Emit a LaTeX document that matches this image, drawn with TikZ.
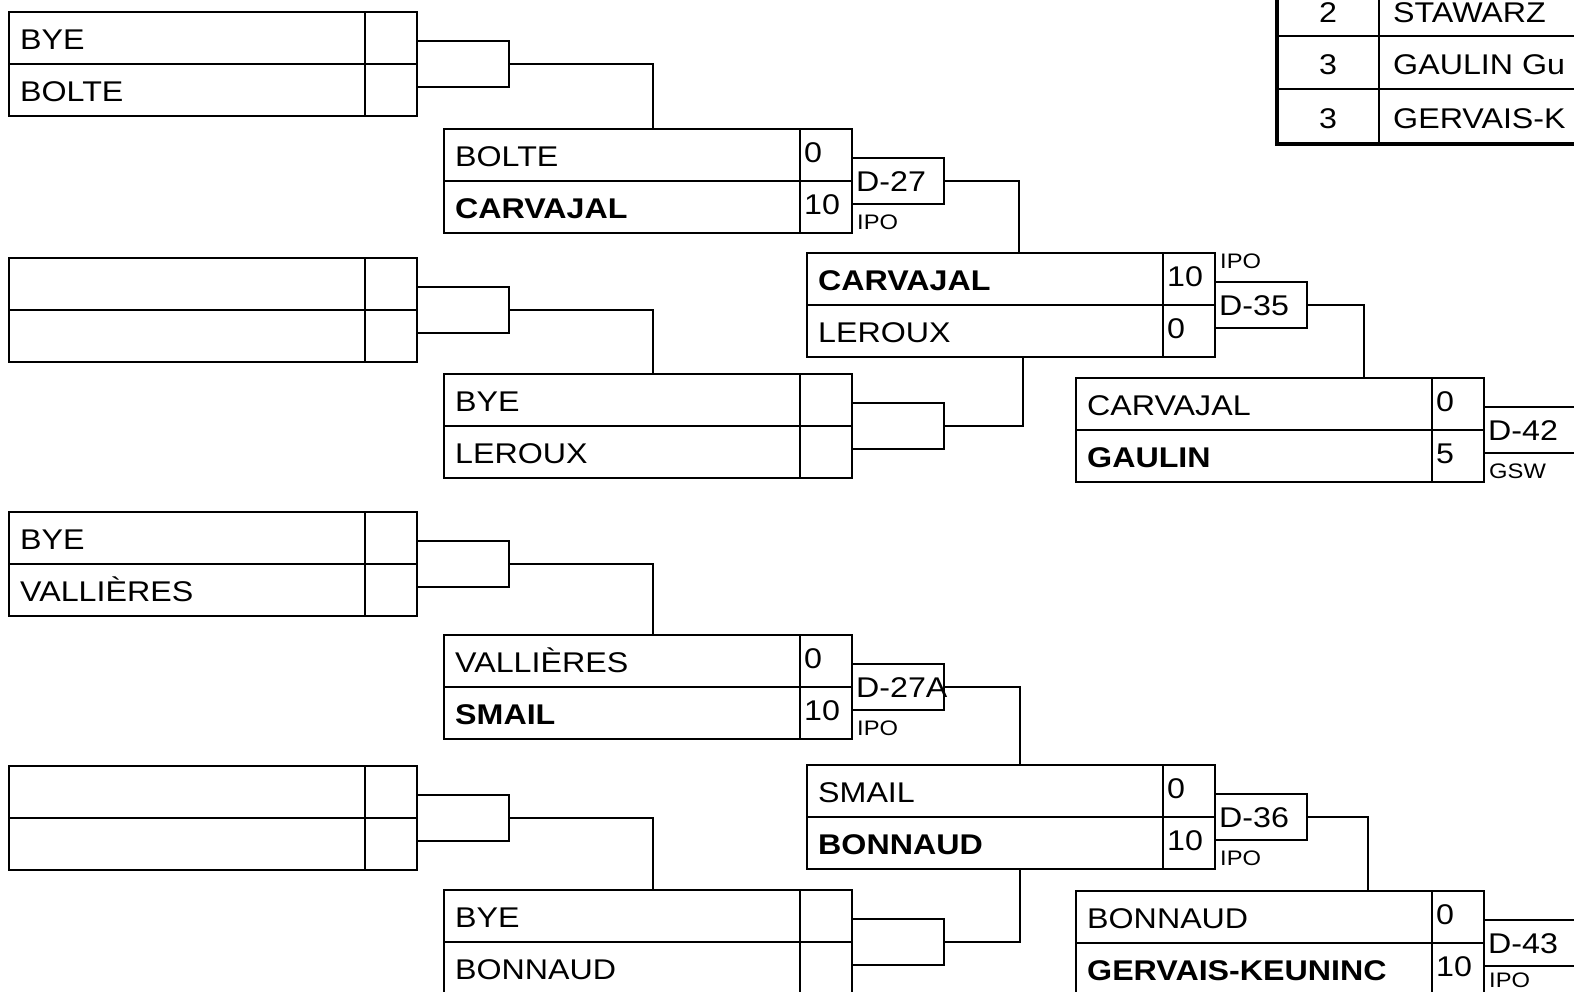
\documentclass[tikz,border=0pt]{standalone}
\usepackage{fontspec}
\setmainfont{Liberation Sans}[FakeStretch=1.13]
\tikzset{
  pair/.style={draw, line width=1.8pt, minimum width=408pt, minimum height=104pt, anchor=north west, inner sep=0pt, outer sep=0pt},
  mbox/.style={draw, line width=1.8pt, minimum width=92pt, minimum height=46pt, anchor=west, inner sep=0pt, outer sep=0pt},
  mboxw/.style={mbox, minimum width=100pt},
  nm/.style={anchor=base west, inner sep=0pt, font=\fontsize{28.5}{30}\selectfont},
  sm/.style={anchor=base west, inner sep=0pt, font=\fontsize{21}{22}\selectfont},
  tnum/.style={anchor=base, inner sep=0pt, font=\fontsize{28.5}{30}\selectfont},
  conn/.style={line width=1.8pt},
}
\newcommand\Pair[7]{%
  \node[pair] (#1) at (#2,#3) {};
  \draw[line width=2.3pt] (#1.west) -- (#1.east);
  \draw[line width=1.8pt] ([xshift=-52pt]#1.north east) -- ([xshift=-52pt]#1.south east);
  \node[nm] (#1-t) at ([xshift=11pt,yshift=-37pt]#1.north west) {#4};
  \node[nm] (#1-ts) at ([xshift=-48pt,yshift=-33pt]#1.north east) {#5};
  \node[nm] (#1-b) at ([xshift=11pt,yshift=-89pt]#1.north west) {#6};
  \node[nm] (#1-bs) at ([xshift=-48pt,yshift=-85pt]#1.north east) {#7};
}
\begin{document}
\begin{tikzpicture}[x=1pt,y=-1pt]
\useasboundingbox (0,0) rectangle (1574,991);
\clip (0,0) rectangle (1574,991);
% round 1
\Pair{Ra}{9}{12}{BYE}{}{BOLTE}{}
\Pair{Rb}{9}{258}{}{}{}{}
\Pair{Rc}{9}{512}{BYE}{}{VALLIÈRES}{}
\Pair{Rd}{9}{766}{}{}{}{}
\node[mbox] (mRa) at (Ra.east) {};
\node[mbox] (mRb) at (Rb.east) {};
\node[mbox] (mRc) at (Rc.east) {};
\node[mbox] (mRd) at (Rd.east) {};
% round 2
\Pair{A}{444}{129}{BOLTE}{0}{\bfseries CARVAJAL}{10}
\Pair{B}{444}{374}{BYE}{}{LEROUX}{}
\Pair{C}{444}{635}{VALLIÈRES}{0}{\bfseries SMAIL}{10}
\Pair{D}{444}{890}{BYE}{}{BONNAUD}{}
\node[mbox] (mA) at (A.east) {};
\node[mbox] (mB) at (B.east) {};
\node[mbox] (mC) at (C.east) {};
\node[mbox] (mD) at (D.east) {};
\node[nm] (lA) at ([xshift=4pt,yshift=-33pt]mA.north west) {D-27};
\node[nm] (lC) at ([xshift=4pt,yshift=-33pt]mC.north west) {D-27A};
\node[sm] (iA) at ([xshift=5pt,yshift=4pt]A.south east) {IPO};
\node[sm] (iC) at ([xshift=5pt,yshift=4pt]C.south east) {IPO};
% round 3
\Pair{E}{807}{253}{\bfseries CARVAJAL}{10}{LEROUX}{0}
\Pair{F}{807}{765}{SMAIL}{0}{\bfseries BONNAUD}{10}
\node[mbox] (mE) at (E.east) {};
\node[mbox] (mF) at (F.east) {};
\node[nm] (lE) at ([xshift=4pt,yshift=-33pt]mE.north west) {D-35};
\node[nm] (lF) at ([xshift=4pt,yshift=-33pt]mF.north west) {D-36};
\node[sm] (iE) at ([xshift=5pt,yshift=-15pt]E.north east) {IPO};
\node[sm] (iF) at ([xshift=5pt,yshift=4pt]F.south east) {IPO};
% round 4
\Pair{G}{1076}{378}{CARVAJAL}{0}{\bfseries GAULIN}{5}
\Pair{H}{1076}{891}{BONNAUD}{0}{\bfseries GERVAIS-KEUNINC}{10}
\node[mboxw] (mG) at (G.east) {};
\node[mboxw] (mH) at (H.east) {};
\node[nm] (lG) at ([xshift=4pt,yshift=-33pt]mG.north west) {D-42};
\node[nm] (lH) at ([xshift=4pt,yshift=-33pt]mH.north west) {D-43};
\node[sm] (iG) at ([xshift=5pt,yshift=4pt]G.south east) {GSW};
\node[sm] (iH) at ([xshift=5pt,yshift=8pt]H.south east) {IPO};
% connectors
\draw[conn] (mRa.east) -| ([xshift=209pt]A.north west);
\draw[conn] (mRb.east) -| ([xshift=209pt]B.north west);
\draw[conn] (mRc.east) -| ([xshift=209pt]C.north west);
\draw[conn] (mRd.east) -| ([xshift=209pt]D.north west);
\draw[conn] (mA.east) -| ([xshift=212pt]E.north west);
\draw[conn] (mB.east) -| ([xshift=216pt]E.south west);
\draw[conn] (mC.east) -| ([xshift=213pt]F.north west);
\draw[conn] (mD.east) -| ([xshift=213pt]F.south west);
\draw[conn] (mE.east) -| ([xshift=288pt]G.north west);
\draw[conn] (mF.east) -| ([xshift=292pt]H.north west);
% ranking table
\draw[line width=2.8pt] (1277,36) -- (1600,36) (1277,89) -- (1600,89);
\draw[line width=2pt] (1379,-20) -- (1379,144);
\draw[line width=4pt] (1277,-20) -- (1277,144) -- (1600,144);
\node[tnum] (r1) at (1328,22) {2};
\node[nm] (n1) at (1393,22) {STAWARZ};
\node[tnum] (r2) at (1328,74) {3};
\node[nm] (n2) at (1393,74) {GAULIN Gu};
\node[tnum] (r3) at (1328,128) {3};
\node[nm] (n3) at (1393,128) {GERVAIS-K};
\end{tikzpicture}
\end{document}
